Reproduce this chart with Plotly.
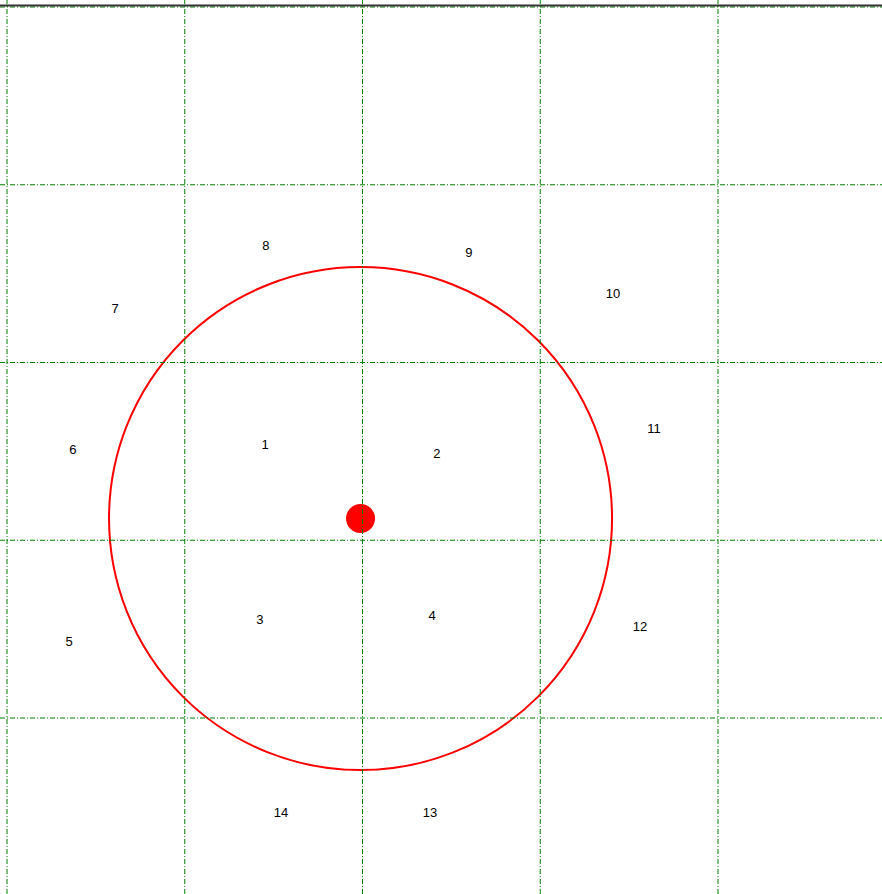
import plotly.graph_objects as go

# grid positions (grid units)
grid_x = [0, 1, 2, 3, 4]
grid_y = [0, 1, 2, 3, 4]

# numbered labels (x, y in grid units, y measured downward)
labels = ["1", "2", "3", "4", "5", "6", "7", "8", "9", "10", "11", "12", "13", "14"]
label_x = [1.452, 2.419, 1.423, 2.391, 0.349, 0.371, 0.608, 1.457, 2.599, 3.409, 3.640, 3.561, 2.380, 1.541]
label_y = [2.470, 2.521, 3.455, 3.432, 3.579, 2.499, 1.705, 1.351, 1.390, 1.621, 2.380, 3.494, 4.541, 4.541]

# circle and centre dot
center_x = [1.989]
center_y = [2.878]
radius = 1.415

W, H = 882, 894
unit = 177.75
off = 7
x_range = [-off / unit, (W - off) / unit]
y_range = [(H - off) / unit, -off / unit]

fig = go.Figure()

fig.add_trace(go.Scatter(
    x=label_x, y=label_y, text=labels, mode="text",
    textfont=dict(family="Liberation Sans, Arial, sans-serif", size=13, color="black"),
    hoverinfo="skip", showlegend=False))

fig.add_trace(go.Scatter(
    x=center_x, y=center_y, mode="markers",
    marker=dict(size=29, color="red", line=dict(width=0)),
    hoverinfo="skip", showlegend=False))

shapes = []
shapes.append(dict(type="circle", xref="x", yref="y",
                   x0=center_x[0] - radius, x1=center_x[0] + radius,
                   y0=center_y[0] - radius, y1=center_y[0] + radius,
                   line=dict(color="red", width=2), layer="above"))
for gx in grid_x:
    shapes.append(dict(type="line", xref="x", yref="paper", x0=gx, x1=gx, y0=0, y1=1,
                       line=dict(color="#008000", width=1, dash="5px,2px,1px,2px"), layer="above"))
for gy in grid_y:
    shapes.append(dict(type="line", xref="paper", yref="y", x0=0, x1=1, y0=gy, y1=gy,
                       line=dict(color="#008000", width=1, dash="5px,2px,1px,2px"), layer="above"))
# top border line
shapes.append(dict(type="line", xref="paper", yref="paper", x0=0, x1=1,
                   y0=1 - 5.5 / H, y1=1 - 5.5 / H,
                   line=dict(color="#333333", width=2), layer="above"))

fig.update_layout(
    width=W, height=H,
    margin=dict(l=0, r=0, t=0, b=0),
    paper_bgcolor="white", plot_bgcolor="white",
    xaxis=dict(range=x_range, visible=False, fixedrange=True),
    yaxis=dict(range=y_range, visible=False, fixedrange=True),
    shapes=shapes,
    showlegend=False,
)

fig.write_html("out.html", config={"displayModeBar": False},
               post_script="document.body.style.margin='0px';")
